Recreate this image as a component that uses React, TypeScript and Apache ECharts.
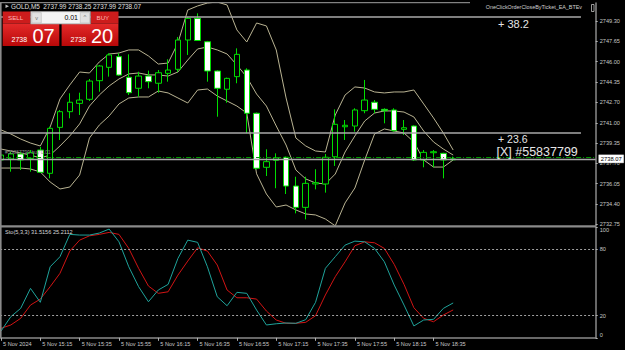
import { useEffect, useRef } from 'react';
import * as echarts from 'echarts';

// ---------- data ----------
const barTimes = [
  '14:55', '15:00', '15:05', '15:10', '15:15', '15:20', '15:25', '15:30', '15:35', '15:40',
  '15:45', '15:50', '15:55', '16:00', '16:05', '16:10', '16:15', '16:20', '16:25', '16:30',
  '16:35', '16:40', '16:45', '16:50', '16:55', '17:00', '17:05', '17:10', '17:15', '17:20',
  '17:25', '17:30', '17:35', '17:40', '17:45', '17:50', '17:55', '18:00', '18:05', '18:10',
  '18:15', '18:20', '18:25', '18:30', '18:35', '18:40', '18:45',
];
const timeLabels = [
  '5 Nov 2024', '5 Nov 15:15', '5 Nov 15:35', '5 Nov 15:55', '5 Nov 16:15', '5 Nov 16:35',
  '5 Nov 16:55', '5 Nov 17:15', '5 Nov 17:35', '5 Nov 17:55', '5 Nov 18:15', '5 Nov 18:35',
];
const opens = [
  2737.98, 2738.06, 2738.47, 2738.11, 2738.79, 2736.89, 2740.64, 2741.92, 2742.60, 2742.93,
  2744.45, 2745.54, 2746.41, 2744.73, 2743.83, 2744.83, 2744.24, 2745.05, 2745.38, 2747.77,
  2749.54, 2747.63, 2745.24, 2743.75, 2744.78, 2745.32, 2741.79, 2737.38, 2737.95, 2738.20,
  2735.85, 2734.11, 2736.02, 2736.02, 2738.24, 2740.69, 2740.75, 2742.00, 2742.69, 2742.11,
  2742.06, 2740.48, 2740.75, 2737.98, 2738.57, 2738.52, 2737.99,
];
const closes = [
  2738.38, 2738.47, 2737.98, 2738.57, 2736.97, 2740.56, 2741.92, 2742.69, 2742.87, 2744.42,
  2745.65, 2746.55, 2744.91, 2743.47, 2744.83, 2744.37, 2745.10, 2745.32, 2747.77, 2749.54,
  2747.73, 2745.24, 2743.83, 2744.64, 2746.60, 2741.79, 2737.30, 2737.84, 2738.16, 2735.85,
  2734.11, 2736.07, 2736.12, 2738.20, 2740.89, 2740.81, 2742.06, 2742.87, 2742.11, 2742.00,
  2740.37, 2740.61, 2737.98, 2738.60, 2738.65, 2737.98, 2738.07,
];
const lows = [
  2737.57, 2737.02, 2737.16, 2737.02, 2736.91, 2736.48, 2739.61, 2741.38, 2741.65, 2742.79,
  2743.55, 2744.78, 2744.85, 2743.28, 2743.14, 2743.83, 2743.47, 2744.37, 2745.16, 2746.55,
  2747.70, 2744.37, 2741.51, 2742.65, 2744.24, 2740.16, 2737.20, 2736.67, 2735.67, 2735.20,
  2733.62, 2733.13, 2735.58, 2735.31, 2737.49, 2739.61, 2740.29, 2741.79, 2741.79, 2740.97,
  2740.29, 2740.02, 2737.90, 2737.38, 2737.38, 2736.48, 2737.99,
];
const highs = [
  2738.63, 2738.65, 2738.65, 2738.79, 2739.04, 2740.69, 2742.06, 2743.42, 2743.47, 2744.59,
  2745.73, 2746.69, 2746.69, 2746.60, 2745.18, 2745.27, 2745.32, 2746.20, 2748.02, 2749.67,
  2749.95, 2747.70, 2745.30, 2744.70, 2747.09, 2745.46, 2741.85, 2738.85, 2738.52, 2738.25,
  2736.61, 2736.61, 2737.22, 2738.47, 2742.11, 2741.24, 2742.20, 2744.51, 2742.87, 2742.20,
  2742.20, 2741.24, 2740.80, 2738.79, 2738.79, 2738.57, 2738.25,
];
const bbUpper = [
  2740.43, 2740.10, 2739.69, 2739.36, 2739.12, 2740.67, 2742.96, 2744.10, 2745.16, 2745.08,
  2745.98, 2746.63, 2746.71, 2746.96, 2746.96, 2746.47, 2745.81, 2745.89, 2747.53, 2750.22,
  2750.55, 2750.79, 2750.87, 2750.63, 2748.59, 2747.61, 2749.16, 2748.92, 2746.96, 2743.04,
  2739.77, 2739.12, 2738.71, 2738.63, 2741.65, 2743.28, 2743.94, 2743.85, 2743.53, 2743.45,
  2743.53, 2743.53, 2743.69, 2742.55, 2741.41, 2740.18, 2738.79,
];
const bbMiddle = [
  2738.87, 2738.71, 2738.55, 2738.38, 2738.14, 2738.38, 2739.12, 2739.94, 2740.92, 2742.38,
  2743.28, 2744.02, 2744.59, 2745.00, 2745.08, 2744.92, 2744.92, 2744.83, 2745.16, 2746.14,
  2747.04, 2747.20, 2746.96, 2746.63, 2745.73, 2744.75, 2743.36, 2742.38, 2740.75, 2739.20,
  2737.16, 2736.43, 2736.10, 2736.02, 2736.83, 2738.63, 2739.94, 2741.16, 2741.81, 2741.98,
  2741.98, 2741.89, 2741.49, 2740.34, 2739.45, 2738.87, 2738.38,
];
const bbLower = [
  2737.32, 2737.32, 2737.32, 2737.24, 2737.00, 2736.18, 2735.61, 2735.77, 2736.75, 2739.77,
  2740.83, 2741.57, 2742.55, 2743.04, 2743.12, 2743.12, 2743.61, 2743.45, 2743.04, 2742.63,
  2743.69, 2743.77, 2743.20, 2742.79, 2742.38, 2741.81, 2736.85, 2735.20, 2734.14, 2734.30,
  2733.90, 2733.57, 2733.49, 2733.16, 2732.60, 2734.47, 2735.69, 2737.98, 2740.10, 2740.51,
  2740.34, 2740.18, 2739.45, 2737.98, 2737.40, 2737.40, 2737.98,
];
const stochMain = [
  6.1, 19.1, 26.6, 44.7, 32.1, 64.2, 73.3, 93.5, 92.9, 92.9,
  94.7, 98.3, 86.8, 64.2, 46.2, 32.6, 43.2, 48.3, 71.8, 88.3,
  86.3, 64.2, 37.1, 29.0, 41.1, 40.2, 25.1, 11.6, 12.7, 13.4,
  13.1, 16.4, 32.1, 62.8, 73.3, 83.8, 87.4, 86.8, 80.8, 68.7,
  47.7, 29.6, 10.7, 16.1, 16.7, 26.6, 31.52,
];
const stochSignal = [
  8.6, 11.6, 17.6, 29.6, 35.0, 46.2, 58.3, 78.4, 88.3, 92.2,
  93.5, 95.3, 93.5, 80.8, 62.8, 46.8, 40.2, 41.6, 56.7, 69.4,
  81.4, 78.4, 65.8, 43.2, 36.2, 36.2, 35.0, 24.2, 16.1, 13.1,
  13.1, 14.0, 20.0, 38.7, 55.2, 68.7, 83.2, 86.8, 85.9, 80.8,
  66.4, 48.3, 27.2, 17.6, 14.5, 20.6, 25.21,
];
const priceTicks = [2749.30, 2747.65, 2746.00, 2744.35, 2742.70, 2741.00, 2739.35, 2737.70, 2736.05, 2734.40, 2732.75];
const stochTicks = [0, 20, 80, 100];
const stochLevels = [20, 80];
const bidPrice = 2738.07;
const orderPrice = 2738.19;
const tpPrice1 = 2749.67;
const tpPrice2 = 2740.16;
const headerText = 'GOLD,M5  2737.99 2738.25 2737.99 2738.07';
const stochTitle = 'Sto(5,3,3) 31.5156 25.2112';
const eaName = 'OneClickOrderCloseByTicket_EA_BTEv';
const tpLabel1 = '+ 38.2';
const tpLabel2 = '+ 23.6';
const ticketLabel = '[X] #55837799';
const lotText = '0.01';
const sellBig = '07';
const buyBig = '20';
const priceHead = '2738';

// ---------- layout ----------
const TOTAL_CATS = 61;
const GRID_LEFT = -3.915;
const GRID_W = 599.63;
const PRICE_MIN = 2732.588;
const PRICE_MAX = 2750.792;
const FONT = 'Liberation Sans, Arial, sans-serif';
const LABEL_COLOR = '#c8c8c8';
const CANDLE_GREEN = '#00dd00';
const BB_COLOR = '#b9b392';
const GREY = '#8a8a8a';

const categories = Array.from({ length: TOTAL_CATS }, (_, i) => (i < barTimes.length ? barTimes[i] : 'f' + i));
const candleData = opens.map((o, i) => [o, closes[i], lows[i], highs[i]]);

const txt = (x: number, y: number, text: string, size: number, fill: string, align = 'left', extra: any = {}) => ({
  type: 'text',
  x,
  y,
  z: 100,
  style: { text, fill, fontSize: size, fontFamily: FONT, align, verticalAlign: 'middle', ...extra },
});

export default function App() {
  const ref = useRef<HTMLDivElement>(null);
  useEffect(() => {
    if (!ref.current) return;
    const chart = echarts.init(ref.current, undefined, { renderer: 'svg' });
    const redGrad = () =>
      new echarts.graphic.LinearGradient(0, 0, 0, 1, [
        { offset: 0, color: '#e42a2a' },
        { offset: 1, color: '#b80808' },
      ]);
    const option: any = {
      animation: false,
      backgroundColor: '#000',
      grid: [
        { left: GRID_LEFT, width: GRID_W, top: 3, height: 223, containLabel: false, outerBoundsMode: 'none' },
        { left: GRID_LEFT, width: GRID_W, top: 227.2, height: 110.6, containLabel: false, outerBoundsMode: 'none' },
      ],
      xAxis: [
        {
          type: 'category', gridIndex: 0, data: categories, boundaryGap: true,
          axisLine: { show: false }, axisTick: { show: false }, axisLabel: { show: false }, splitLine: { show: false },
        },
        {
          type: 'category', gridIndex: 1, data: categories, boundaryGap: true,
          axisLine: { show: true, lineStyle: { color: GREY, width: 1.5 } },
          axisTick: {
            show: true, alignWithLabel: true, length: 3, lineStyle: { color: '#b0b0b0' },
            interval: (i: number) => i % 4 === 0 && i < barTimes.length,
          },
          axisLabel: {
            show: true, color: LABEL_COLOR, fontSize: 5.6, fontFamily: FONT, align: 'left', margin: 3,
            padding: [0, 0, 0, 2],
            interval: (i: number) => i % 4 === 0 && i < barTimes.length,
            formatter: (_v: string, i: number) => (i % 4 === 0 && timeLabels[i / 4] ? timeLabels[i / 4] : ''),
          },
          splitLine: { show: false },
        },
      ],
      yAxis: [
        {
          type: 'value', gridIndex: 0, position: 'right', min: PRICE_MIN, max: PRICE_MAX,
          axisLine: { show: true, lineStyle: { color: GREY, width: 1.5 } },
          axisTick: { show: true, length: 2, customValues: priceTicks, lineStyle: { color: '#b0b0b0' } },
          axisLabel: {
            show: true, customValues: priceTicks, color: LABEL_COLOR, fontSize: 5.6, fontFamily: FONT, margin: 4,
            formatter: (v: number) => v.toFixed(2),
          },
          splitLine: { show: false },
        },
        {
          type: 'value', gridIndex: 1, position: 'right', min: 0, max: 100,
          axisLine: { show: true, lineStyle: { color: GREY, width: 1.5 } },
          axisTick: { show: true, length: 2, customValues: stochTicks, lineStyle: { color: '#b0b0b0' } },
          axisLabel: {
            show: true, customValues: stochTicks, color: LABEL_COLOR, fontSize: 5.6, fontFamily: FONT, margin: 4,
            verticalAlignMaxLabel: 'top', verticalAlignMinLabel: 'bottom',
          },
          splitLine: { show: false },
        },
      ],
      series: [
        {
          type: 'line', xAxisIndex: 0, yAxisIndex: 0, data: bbUpper, symbol: 'none', silent: true,
          lineStyle: { color: BB_COLOR, width: 1 }, z: 1,
        },
        {
          type: 'line', xAxisIndex: 0, yAxisIndex: 0, data: bbMiddle, symbol: 'none', silent: true,
          lineStyle: { color: BB_COLOR, width: 1 }, z: 1,
        },
        {
          type: 'line', xAxisIndex: 0, yAxisIndex: 0, data: bbLower, symbol: 'none', silent: true,
          lineStyle: { color: BB_COLOR, width: 1 }, z: 1,
        },
        {
          type: 'candlestick', xAxisIndex: 0, yAxisIndex: 0, data: candleData, barWidth: 6, z: 3,
          itemStyle: {
            color: '#000', color0: '#fff', borderColor: CANDLE_GREEN, borderColor0: CANDLE_GREEN,
            borderColorDoji: CANDLE_GREEN, borderWidth: 1,
          },
          markLine: {
            silent: true, symbol: ['none', 'none'], animation: false,
            lineStyle: { color: '#a8a8a8', width: 1.5, type: 'solid' },
            label: { show: false },
            data: [
              [{ coord: [0, tpPrice1] }, { coord: [59, tpPrice1] }],
              [{ coord: [0, tpPrice2] }, { coord: [59, tpPrice2] }],
              {
                yAxis: orderPrice,
                lineStyle: { color: '#009a00', width: 1, type: [5, 2, 1, 2] },
                label: { show: false },
              },
              {
                yAxis: bidPrice,
                lineStyle: { color: '#a8a8a8', width: 1.3, type: 'solid' },
                label: {
                  show: true, position: 'end', distance: 3, formatter: bidPrice.toFixed(2),
                  backgroundColor: '#ffffff', color: '#000', fontSize: 5.8, fontFamily: FONT,
                  padding: [1, 2, 1, 2], borderColor: '#606060', borderWidth: 0.5,
                },
              },
            ],
          },
        },
        {
          type: 'line', xAxisIndex: 1, yAxisIndex: 1, data: stochMain, symbol: 'none', silent: true,
          lineStyle: { color: '#1fa39b', width: 1 }, z: 3,
          markLine: {
            silent: true, symbol: ['none', 'none'], animation: false,
            lineStyle: { color: '#a0a0a0', width: 1, type: [2, 2] },
            label: { show: false },
            data: stochLevels.map((v) => ({ yAxis: v })),
          },
        },
        {
          type: 'line', xAxisIndex: 1, yAxisIndex: 1, data: stochSignal, symbol: 'none', silent: true,
          lineStyle: { color: '#d11414', width: 1 }, z: 2,
        },
      ],
      graphic: [
        // frame
        { type: 'rect', z: 90, shape: { x: 0, y: 3, width: 1.6, height: 335 }, style: { fill: GREY } },
        { type: 'rect', z: 90, shape: { x: 0, y: 225.2, width: 596, height: 2.4 }, style: { fill: GREY } },
        { type: 'line', z: 90, shape: { x1: 0, y1: 2.7, x2: 470, y2: 2.7 }, style: { stroke: '#a0a0a0', lineWidth: 1 } },
        // header
        { type: 'polygon', z: 100, shape: { points: [[5.5, 4.5], [9, 6.2], [5.5, 8]] }, style: { fill: '#c0c0c0' } },
        txt(11, 6.3, headerText, 6.4, '#e0e0e0'),
        txt(582, 7, eaName, 5.4, '#d0d0d0', 'right'),
        { type: 'rect', z: 100, shape: { x: 591.5, y: 4.5, width: 2.5, height: 7 }, style: { fill: 'none', stroke: '#c0c0c0', lineWidth: 0.8 } },
        // one-click panel
        { type: 'rect', z: 99, shape: { x: 2.7, y: 11.5, width: 28, height: 12 }, style: { fill: '#cc1c1c' } },
        { type: 'rect', z: 99, shape: { x: 90.5, y: 11.5, width: 28, height: 12 }, style: { fill: '#cc1c1c' } },
        { type: 'rect', z: 99, shape: { x: 2.7, y: 23.5, width: 56.6, height: 22.5 }, style: { fill: redGrad() } },
        { type: 'rect', z: 99, shape: { x: 61.6, y: 23.5, width: 56.8, height: 22.5 }, style: { fill: redGrad() } },
        { type: 'rect', z: 99, shape: { x: 30.8, y: 11.6, width: 59.5, height: 12.3 }, style: { fill: '#f4f4f4', stroke: '#9a9a9a', lineWidth: 0.8 } },
        { type: 'rect', z: 100, shape: { x: 31.8, y: 12.6, width: 9.5, height: 10.3 }, style: { fill: '#e2e2e2', stroke: '#b8b8b8', lineWidth: 0.6 } },
        { type: 'rect', z: 100, shape: { x: 80.3, y: 12.6, width: 9.2, height: 10.3 }, style: { fill: '#e2e2e2', stroke: '#b8b8b8', lineWidth: 0.6 } },
        txt(36.5, 17.6, 'v', 5.5, '#707070', 'center'),
        txt(85, 17.4, '^', 6, '#707070', 'center'),
        txt(78, 17.8, lotText, 7, '#000', 'right'),
        txt(8, 17.6, 'SELL', 6.2, '#ffb8b8'),
        txt(96.5, 17.6, 'BUY', 6.2, '#ffb8b8'),
        txt(11.5, 39, priceHead, 7, '#ffffff'),
        txt(32.5, 35.5, sellBig, 20, '#ffffff'),
        txt(70.5, 39, priceHead, 7, '#ffffff'),
        txt(91, 35.5, buyBig, 20, '#ffffff'),
        // order annotations
        txt(498, 23.5, tpLabel1, 11, '#e6e6e6'),
        txt(498, 138.6, tpLabel2, 10.5, '#e6e6e6'),
        txt(496.5, 151.6, ticketLabel, 12.5, '#e6e6e6'),
        txt(5, 151.5, '#55837799 buy 0.01', 5, '#8c8c8c'),
        // indicator title
        txt(5, 232.3, stochTitle, 5.6, '#d8d8d8'),
      ],
    };
    chart.setOption(option);
    return () => chart.dispose();
  }, []);
  return (
    <div
      ref={ref}
      style={{ position: 'fixed', left: 0, top: 0, width: 625, height: 350, background: '#000' }}
    />
  );
}
